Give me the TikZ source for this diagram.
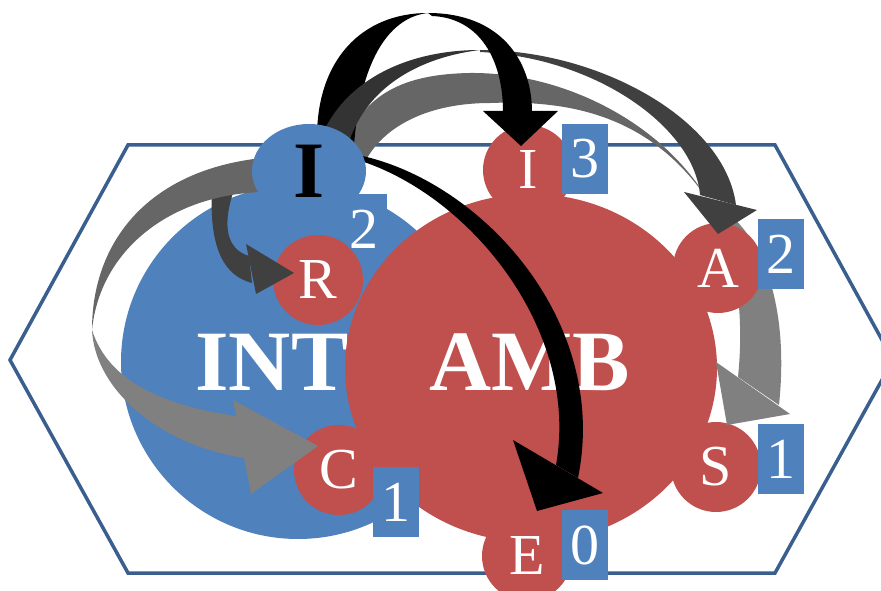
\documentclass[tikz,border=0pt]{standalone}
\usepackage{fontspec}
\setmainfont{Liberation Serif}
\usetikzlibrary{shapes.geometric}

\definecolor{intblue}{HTML}{4F81BD}
\definecolor{ambred}{HTML}{C0504D}
\definecolor{hexline}{HTML}{3A5F8F}
\definecolor{shadeA}{HTML}{333333}
\definecolor{shadeB}{HTML}{404040}
\definecolor{shadeC}{HTML}{666666}
\definecolor{shadeD}{HTML}{808080}

\tikzset{
  reddot/.style={circle,fill=ambred,minimum size=90pt,inner sep=0pt,
    text=white,font=\fontsize{58}{58}\selectfont},
  numbox/.style={rectangle,fill=intblue,minimum width=46pt,minimum height=70pt,
    inner sep=0pt,text=white,font=\fontsize{58}{58}\selectfont},
  bigword/.style={text=white,font=\bfseries\fontsize{86}{86}\selectfont},
}

\begin{document}
\begin{tikzpicture}[x=1pt,y=-1pt]
\useasboundingbox (0,0) rectangle (881,591);

% the frame
\draw[hexline,line width=3.5pt] (10,360) -- (128,145) -- (775,145) -- (893,360)
  -- (775,573) -- (128,573) -- cycle;

% INT
\node[circle,fill=intblue,minimum size=354pt,inner sep=0pt] (int) at (298,362) {};
\node[numbox] (nR) at (364,229) {2};
\node[bigword] (intlbl) at (272,362) {INT};

% AMB
\node[ellipse,fill=ambred,minimum width=372pt,minimum height=348pt,inner sep=0pt] (amb) at (531,368) {};
\node[bigword] (amblbl) at (530,362) {AMB};

\node[reddot] (Ir) at (528,170) {I};
\node[reddot] (R) at (318,280) {R};
\node[reddot] (C) at (339,470) {C};
\node[reddot] (S) at (716,467) {S};
\node[reddot] (E) at (527,556) {E};
\node[numbox] (nIr) at (585,159) {3};
\node[numbox] (nS) at (781,459) {1};
\node[numbox] (nE) at (585,545) {0};
\node[numbox] (nC) at (396,502) {1};

% I -> S (passes behind A)
\fill[shadeC] (346,140) .. controls (368,90) and (410,74) .. (470,73)
  .. controls (560,72) and (660,120) .. (708,200)
  .. controls (650,115) and (570,100) .. (490,103)
  .. controls (430,103) and (385,125) .. (366,160) -- cycle;
\fill[shadeD] (708,200) .. controls (760,225) and (790,300) .. (779,405)
  -- (738,377) .. controls (745,310) and (735,245) .. (708,200) -- cycle;
\fill[shadeD] (716,362) -- (790,414) -- (727,425) -- cycle;

\node[reddot] (A) at (718,268) {A};
\node[numbox] (nA) at (781,254) {2};

% I -> R
\fill[shadeB] (212,190) .. controls (209,250) and (225,276) .. (252,283)
  -- (249,256) .. controls (226,249) and (222,225) .. (234,190) -- cycle;
\fill[shadeB] (246,244) -- (256,294) -- (294,273) -- cycle;

% I -> C
\fill[shadeC] (262,158) .. controls (150,170) and (92,240) .. (92,330)
  .. controls (100,250) and (170,195) .. (262,192) -- cycle;
\fill[shadeD] (92,330) .. controls (95,390) and (160,445) .. (244,458)
  -- (236,416) .. controls (160,405) and (108,380) .. (92,330) -- cycle;
\fill[shadeD] (233,400) -- (251,494) -- (318,446) -- cycle;

% I -> I, back half
\fill[black] (317,140) .. controls (316,60) and (362,13) .. (428,13)
  .. controls (398,16) and (362,45) .. (354,145) -- cycle;

% I -> A
\fill[shadeA] (322,135) .. controls (347,78) and (410,50) .. (480,50)
  .. controls (430,56) and (368,80) .. (348,145) -- cycle;
\fill[shadeB] (480,50) .. controls (600,50) and (725,120) .. (736,205)
  -- (700,195) .. controls (695,130) and (600,58) .. (480,52) -- cycle;
\fill[shadeB] (684,192) -- (757,210) -- (718,234) -- cycle;

% I -> I, front half
\fill[black] (428,13) .. controls (500,13) and (532,60) .. (532,112)
  -- (503,112) .. controls (503,60) and (480,18) .. (432,16) -- cycle;
\fill[black] (483,111) -- (558,111) -- (521,146) -- cycle;

% I -> E
\fill[black] (358,155) .. controls (480,180) and (610,320) .. (578,478)
  -- (556,465) .. controls (580,330) and (470,195) .. (358,160) -- cycle;
\fill[black] (513,440) -- (603,493) -- (537,511) -- cycle;

\node[ellipse,fill=intblue,minimum width=114pt,minimum height=94pt,inner sep=0pt,
  font=\bfseries\fontsize{80}{80}\selectfont] (Ib) at (309,171) {I};
\end{tikzpicture}
\end{document}
